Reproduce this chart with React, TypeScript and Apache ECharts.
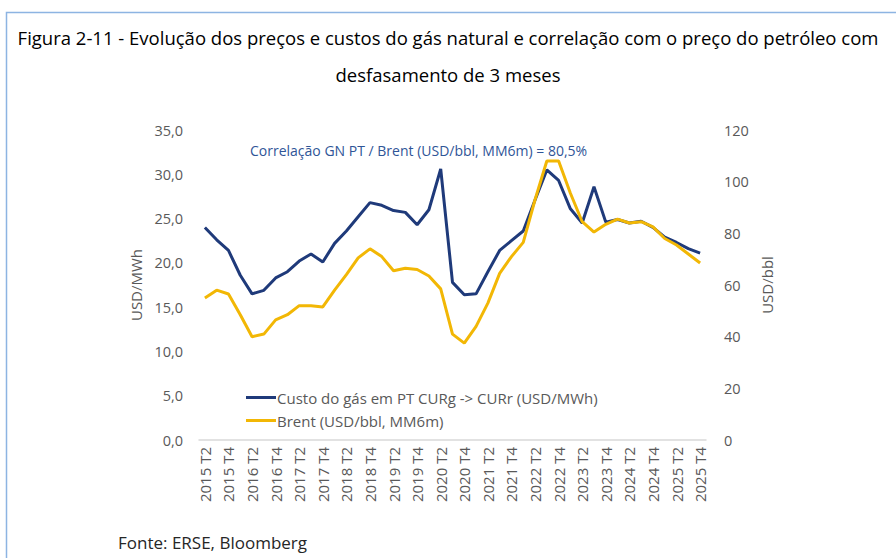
import React, { useEffect, useRef } from "react";
import * as echarts from "echarts";

const categories: string[] = [];
for (let y = 2015; y <= 2025; y++) {
  for (let q = 1; q <= 4; q++) {
    if (y === 2015 && q === 1) continue;
    categories.push(`${y} T${q}`);
  }
}

const gasCost = [
  24.0, 22.6, 21.4, 18.6, 16.5, 16.9, 18.3, 19.0, 20.2, 21.0,
  20.1, 22.2, 23.6, 25.2, 26.8, 26.5, 25.9, 25.7, 24.3, 26.0,
  30.6, 17.8, 16.4, 16.5, 19.0, 21.4, 22.5, 23.6, 27.1, 30.5,
  29.3, 26.1, 24.5, 28.6, 24.6, 24.9, 24.5, 24.7, 24.0, 22.9,
  22.3, 21.6, 21.1,
];

const brent = [
  55, 58, 56.5, 48.5, 40, 41, 46.5, 48.5, 52, 52,
  51.5, 58, 64, 70.5, 74, 71, 65.5, 66.5, 66, 63.5,
  58.5, 41, 37.5, 44, 53, 64.5, 71, 76.5, 93, 108,
  108, 95.5, 84.5, 80.5, 83.5, 85.5, 84, 84.5, 82.5, 78,
  75.5, 72, 68.5,
];

const seriesNames = [
  "Custo do gás em PT CURg -> CURr (USD/MWh)",
  "Brent (USD/bbl, MM6m)",
];

const titleText =
  "Figura 2-11 - Evolução dos preços e custos do gás natural e correlação com o preço do petróleo com\ndesfasamento de 3 meses";
const annotation = "Correlação GN PT / Brent (USD/bbl, MM6m) = 80,5%";
const sourceText = "Fonte: ERSE, Bloomberg";

const FONT = "'Open Sans', 'Noto Sans', sans-serif";
const BLUE = "#1F3A7A";
const YELLOW = "#F2B705";
const GREY = "#595959";

export default function App() {
  const ref = useRef<HTMLDivElement>(null);
  useEffect(() => {
    if (!ref.current) return;
    const chart = echarts.init(ref.current, null, { renderer: "svg" });
    chart.setOption({
      animation: false,
      backgroundColor: "#ffffff",
      textStyle: { fontFamily: FONT },
      title: {
        text: titleText,
        left: "center",
        top: 14,
        textStyle: {
          fontFamily: FONT,
          fontSize: 18.5,
          fontWeight: "normal",
          color: "#000000",
          lineHeight: 37,
        },
      },
      grid: { left: 199, right: 190, top: 130, bottom: 118, containLabel: false },
      legend: {
        orient: "vertical",
        left: 241,
        top: 385,
        itemWidth: 30,
        itemHeight: 3,
        itemGap: 8,
        icon: "rect",
        textStyle: { fontFamily: FONT, fontSize: 15, color: GREY, padding: [0, 0, 0, -4] },
        data: seriesNames,
      },
      xAxis: {
        type: "category",
        data: categories,
        boundaryGap: true,
        axisLine: { lineStyle: { color: "#D9D9D9", width: 1.5 } },
        axisTick: { show: false },
        axisLabel: {
          interval: 1,
          rotate: 90,
          fontFamily: FONT,
          fontSize: 15,
          color: GREY,
          margin: 7,
        },
      },
      yAxis: [
        {
          type: "value",
          min: 0,
          max: 35,
          interval: 5,
          name: "USD/MWh",
          nameLocation: "middle",
          nameRotate: 90,
          nameGap: 50,
          nameTextStyle: { fontFamily: FONT, fontSize: 15, color: GREY },
          splitLine: { show: false },
          axisLine: { show: false },
          axisTick: { show: false },
          axisLabel: {
            fontFamily: FONT,
            fontSize: 14.5,
            color: GREY,
            margin: 16,
            formatter: (v: number) => v.toFixed(1).replace(".", ","),
          },
        },
        {
          type: "value",
          min: 0,
          max: 120,
          interval: 20,
          name: "USD/bbl",
          nameLocation: "middle",
          nameRotate: 90,
          nameGap: 46,
          nameTextStyle: { fontFamily: FONT, fontSize: 15, color: GREY },
          splitLine: { show: false },
          axisLine: { show: false },
          axisTick: { show: false },
          axisLabel: { fontFamily: FONT, fontSize: 14.5, color: GREY, margin: 18 },
        },
      ],
      series: [
        {
          name: seriesNames[0],
          type: "line",
          data: gasCost,
          yAxisIndex: 0,
          symbol: "none",
          lineStyle: { color: BLUE, width: 3 },
          itemStyle: { color: BLUE },
        },
        {
          name: seriesNames[1],
          type: "line",
          data: brent,
          yAxisIndex: 1,
          symbol: "none",
          lineStyle: { color: YELLOW, width: 3 },
          itemStyle: { color: YELLOW },
        },
      ],
      graphic: [
        {
          type: "rect",
          shape: { x: 6.5, y: 12.5, width: 900, height: 560 },
          style: { fill: "none", stroke: "#8DB4E2", lineWidth: 1.5 },
          silent: true,
        },
        {
          type: "text",
          left: 250,
          top: 143,
          style: {
            text: annotation,
            fontFamily: FONT,
            fontSize: 14,
            fill: "#2F5597",
          },
        },
        {
          type: "text",
          left: 118,
          top: 534,
          style: {
            text: sourceText,
            fontFamily: FONT,
            fontSize: 17,
            fill: "#262626",
          },
        },
      ],
    });
    return () => chart.dispose();
  }, []);
  return (
    <div
      ref={ref}
      style={{ position: "absolute", left: 0, top: 0, width: 896, height: 558 }}
    />
  );
}
